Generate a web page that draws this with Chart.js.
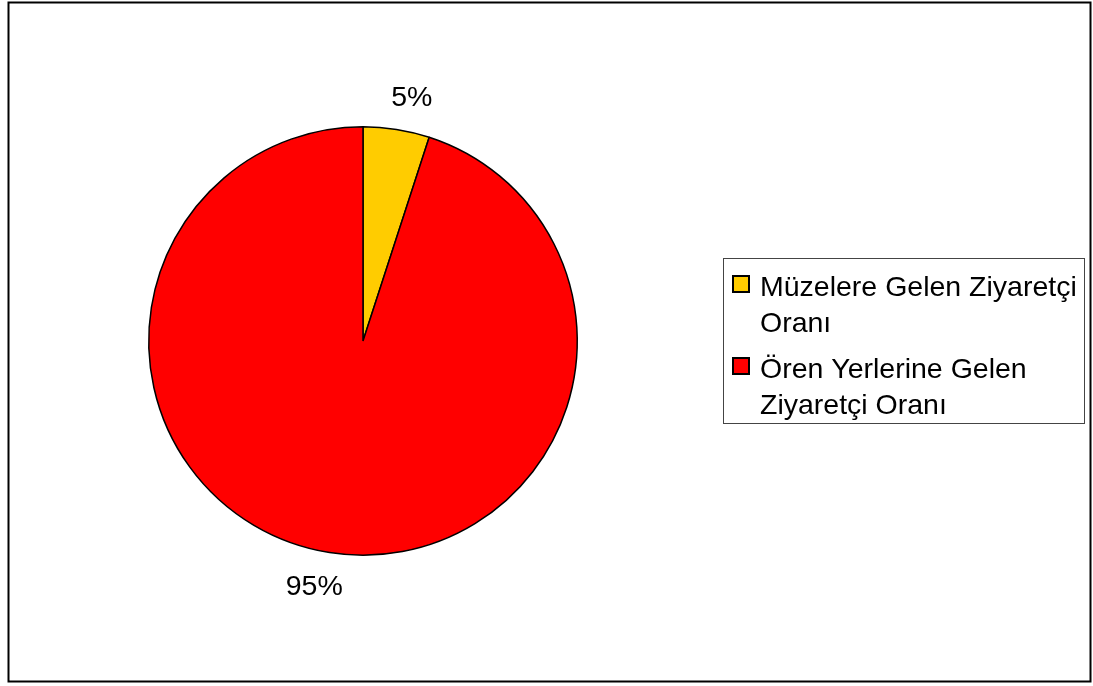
<!DOCTYPE html>
<html>
<head>
<meta charset="utf-8">
<script src="https://cdn.jsdelivr.net/npm/chart.js@4"></script>
<style>
  html, body { margin: 0; padding: 0; background: #fff; }
  #wrap { position: relative; width: 1093px; height: 686px; }
</style>
</head>
<body>
<div id="wrap"><canvas id="pieChart" width="1093" height="686"></canvas></div>
<script>
// Pie: visitor share, museums vs. ruins
const categories = ['Müzelere Gelen Ziyaretçi Oranı', 'Ören Yerlerine Gelen Ziyaretçi Oranı'];
const legendLines = [['Müzelere Gelen Ziyaretçi', 'Oranı'], ['Ören Yerlerine Gelen', 'Ziyaretçi Oranı']];
const shares = [5, 95];
const sliceColors = ['#FFCC00', '#FF0000'];

const FAMILY = '"Liberation Sans", Arial, sans-serif';

// outer frame, percent labels and the boxed legend
const decorations = {
    id: 'decorations',
    afterDraw(chart) {
        const ctx = chart.ctx;
        ctx.save();
        ctx.strokeStyle = '#000';
        ctx.lineWidth = 2;
        ctx.strokeRect(8.5, 2.5, 1082, 679);

        // percent labels outside each slice (nudged a little clockwise, like the original)
        ctx.font = '28.5px ' + FAMILY;
        ctx.fillStyle = '#000';
        ctx.textAlign = 'center';
        ctx.textBaseline = 'middle';
        const total = shares.reduce((a, b) => a + b, 0);
        chart.getDatasetMeta(0).data.forEach((arc, i) => {
            const p = arc.getProps(['x', 'y', 'startAngle', 'endAngle', 'outerRadius']);
            const mid = (p.startAngle + p.endAngle) / 2 + 0.04;
            const r = p.outerRadius + 35;
            const pct = Math.round(shares[i] / total * 100) + '%';
            ctx.fillText(pct, p.x + Math.cos(mid) * r, p.y + Math.sin(mid) * r + 2);
        });

        // legend box
        ctx.lineWidth = 1;
        ctx.strokeStyle = '#444';
        ctx.strokeRect(723.5, 258.5, 361, 165);
        ctx.font = '28.5px ' + FAMILY;
        ctx.textAlign = 'left';
        ctx.textBaseline = 'alphabetic';
        let base = 296;
        legendLines.forEach((lines, i) => {
            ctx.fillStyle = sliceColors[i];
            ctx.fillRect(732, base - 21, 18, 18);
            ctx.strokeStyle = '#000';
            ctx.lineWidth = 2;
            ctx.strokeRect(733, base - 20, 16, 16);
            ctx.fillStyle = '#000';
            lines.forEach((t, j) => ctx.fillText(t, 760, base + j * 35.5));
            base += 35.5 * lines.length + 11;
        });
        ctx.restore();
    }
};

const ctxPie = document.getElementById('pieChart').getContext('2d');
new Chart(ctxPie, {
    type: 'pie',
    data: {
        labels: categories,
        datasets: [{
            data: shares,
            backgroundColor: sliceColors,
            borderColor: '#000',
            borderWidth: 1.5
        }]
    },
    options: {
        responsive: false,
        animation: false,
        layout: { padding: { left: 148, right: 515, top: 126, bottom: 130 } },
        plugins: { legend: { display: false }, tooltip: { enabled: false } }
    },
    plugins: [decorations]
});
</script>
</body>
</html>
